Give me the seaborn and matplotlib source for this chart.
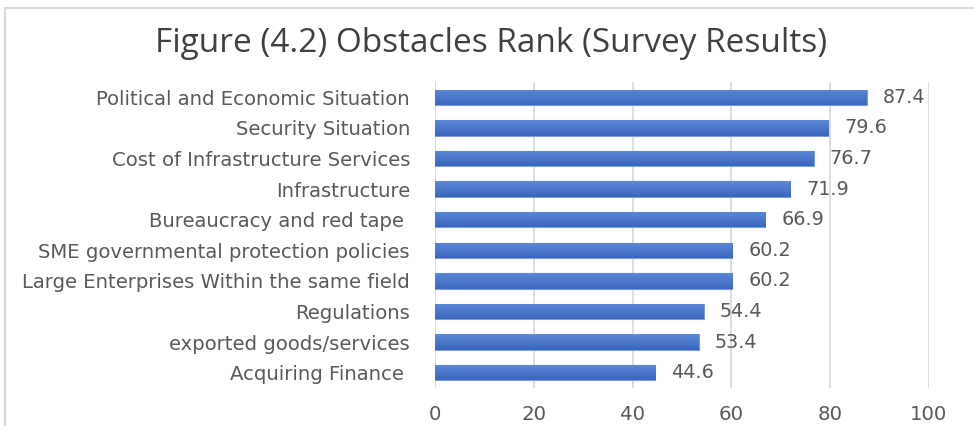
import matplotlib
matplotlib.use("Agg")
import matplotlib.pyplot as plt
import seaborn as sns
import pandas as pd
import numpy as np
from matplotlib.patches import Rectangle
from matplotlib.colors import LinearSegmentedColormap

categories = [
    "Political and Economic Situation",
    "Security Situation",
    "Cost of Infrastructure Services",
    "Infrastructure",
    "Bureaucracy and red tape ",
    "SME governmental protection policies",
    "Large Enterprises Within the same field",
    "Regulations",
    "exported goods/services",
    "Acquiring Finance ",
]
values = [87.4, 79.6, 76.7, 71.9, 66.9, 60.2, 60.2, 54.4, 53.4, 44.6]
x_ticks = [0, 20, 40, 60, 80, 100]
title = "Figure (4.2) Obstacles Rank (Survey Results)"

df = pd.DataFrame({"category": categories, "value": values})

sns.set_theme(style="white")
plt.rcParams["font.family"] = ["DejaVu Sans"]

text_color = "#595959"
fig = plt.figure(figsize=(9.74, 4.26), dpi=100)
ax = fig.add_axes([435 / 974, 1 - 388 / 426, (929 - 435) / 974, (388 - 82) / 426])

sns.barplot(data=df, y="category", x="value", orient="h", color="#4472C4",
            saturation=1, width=0.5, edgecolor="#7B9DDA", linewidth=0.8, ax=ax, zorder=3)

ax.set_xlim(0, 100)
ax.set_xticks(x_ticks)
ax.set_xlabel("")
ax.set_ylabel("")
ax.grid(axis="x", color="#D9DEE6", linewidth=1.4, zorder=0)
for s in ax.spines.values():
    s.set_visible(False)
ax.tick_params(axis="y", length=0, pad=18, labelsize=14.1, labelcolor=text_color)
ax.tick_params(axis="x", length=0, pad=12, labelsize=14.2, labelcolor=text_color)

# gradient fill for bars (light top -> darker bottom)
cmap = LinearSegmentedColormap.from_list("g", ["#5B89D8", "#3A67BD"])
grad = np.linspace(0, 1, 64).reshape(-1, 1)
ylim = ax.get_ylim()
for p in list(ax.patches):
    x0, y0 = p.get_x(), p.get_y()
    w, h = p.get_width(), p.get_height()
    im = ax.imshow(grad, cmap=cmap, aspect="auto", extent=(x0, x0 + w, y0 + h, y0),
                   origin="upper", zorder=3.5, interpolation="bilinear")
    im.set_clip_path(p)
ax.set_xlim(0, 100)
ax.set_ylim(ylim)

for i, v in enumerate(values):
    ax.text(v + 3.2, i, f"{v}", va="center", ha="left", fontsize=13.8, color=text_color, zorder=5)

fig.text(491 / 974, 1 - 43 / 426, title, ha="center", va="center", fontsize=24,
         color="#404040", family=["Open Sans", "DejaVu Sans"])

fig.patches.append(Rectangle((5 / 974, -0.1), 1.2, 1 - 8 / 426 + 0.1, transform=fig.transFigure,
                             fill=False, edgecolor="#D9D9D9", linewidth=1.5))

fig.savefig("out.png", dpi=100)
